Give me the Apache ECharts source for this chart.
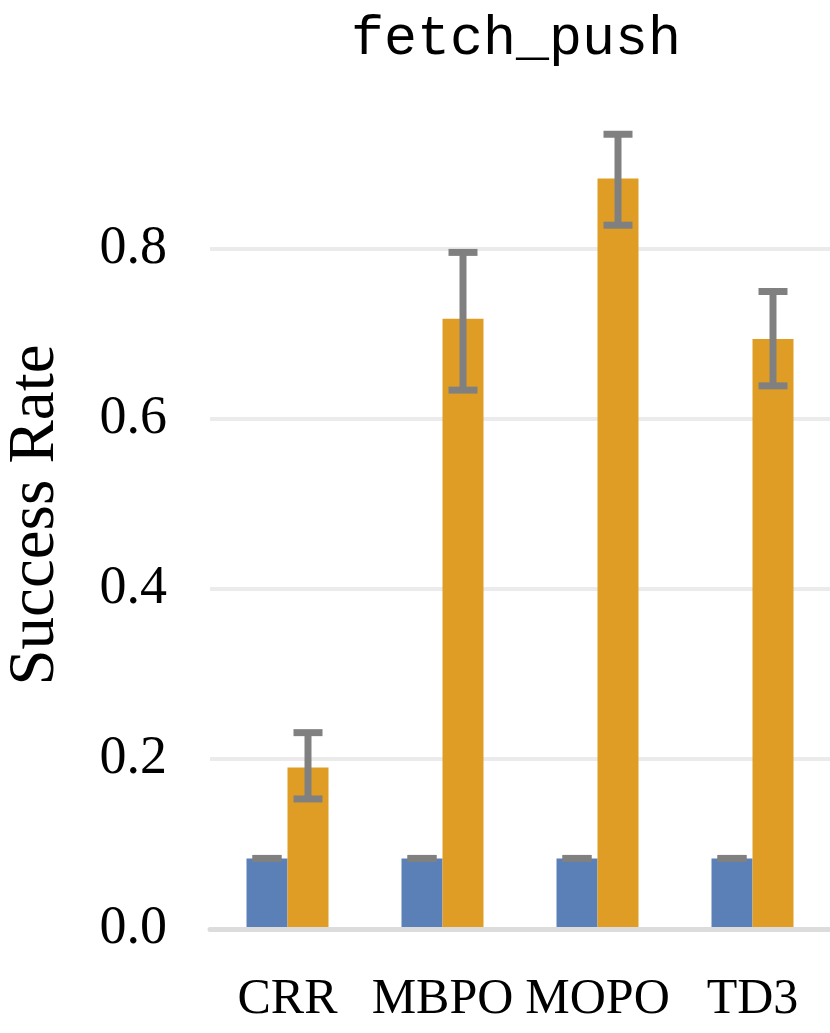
<!DOCTYPE html>
<html>
<head>
<meta charset="utf-8">
<script src="https://cdn.jsdelivr.net/npm/echarts@6/dist/echarts.min.js"></script>
<style>
  html, body { margin: 0; padding: 0; background: #fff; }
  #chart { width: 830px; height: 1033px; }
</style>
</head>
<body>
<div id="chart"></div>
<script>
// data
var categories = ['CRR', 'MBPO', 'MOPO', 'TD3'];
var baseMean = [0.083, 0.083, 0.083, 0.083];
var baseLow  = [0.083, 0.083, 0.083, 0.083];
var baseHigh = [0.083, 0.083, 0.083, 0.083];
var mainMean = [0.190, 0.718, 0.883, 0.694];
var mainLow  = [0.153, 0.634, 0.828, 0.639];
var mainHigh = [0.231, 0.796, 0.935, 0.750];
var yTicks = [0, 0.2, 0.4, 0.6, 0.8];

var BAR_W = 41;

function errData(low, high) {
	var out = [];
	for (var i = 0; i < categories.length; i++) {
		out.push([i, low[i], high[i]]);
	}
	return out;
}

function errRender(offset) {
	return function (params, api) {
		var c = api.value(0);
		var lo = api.coord([c, api.value(1)]);
		var hi = api.coord([c, api.value(2)]);
		var x = lo[0] + offset;
		var half = 14.5;
		var style = { stroke: '#808080', lineWidth: 7, lineCap: 'butt' };
		return {
			type: 'group',
			children: [
				{ type: 'line', shape: { x1: x, y1: hi[1], x2: x, y2: lo[1] }, style: style },
				{ type: 'line', shape: { x1: x - half, y1: hi[1], x2: x + half, y2: hi[1] }, style: style },
				{ type: 'line', shape: { x1: x - half, y1: lo[1], x2: x + half, y2: lo[1] }, style: style }
			]
		};
	};
}

var chart = echarts.init(document.getElementById('chart'));
var option = {
	animation: false,
	backgroundColor: '#ffffff',
	title: {
		text: 'fetch_push',
		left: 511,
		textAlign: 'center',
		top: 7,
		textStyle: {
			fontFamily: 'Liberation Mono',
			fontWeight: 'normal',
			fontSize: 55,
			color: '#000'
		}
	},
	grid: {
		left: 210,
		right: 0,
		top: 113,
		bottom: 104,
		containLabel: false,
		outerBoundsMode: 'none'
	},
	xAxis: {
		type: 'category',
		data: categories,
		axisTick: { show: false },
		axisLine: { show: true, lineStyle: { color: '#dcdcdc', width: 5 } },
		axisLabel: {
			fontFamily: 'Liberation Serif',
			fontSize: 50,
			color: '#000',
			margin: 46,
			interval: 0,
			hideOverlap: false
		},
		z: 5
	},
	yAxis: {
		type: 'value',
		min: 0,
		max: 0.96,
		interval: 0.2,
		name: 'Success Rate',
		nameLocation: 'middle',
		nameGap: 142,
		nameTextStyle: {
			fontFamily: 'Liberation Serif',
			fontSize: 65,
			color: '#000',
			padding: [0, 0, 0, 12]
		},
		axisLine: { show: false },
		axisTick: { show: false },
		axisLabel: {
			fontFamily: 'Liberation Serif',
			fontSize: 54,
			color: '#000',
			margin: 43,
			formatter: function (v) {
				for (var i = 0; i < yTicks.length; i++) {
					if (Math.abs(v - yTicks[i]) < 1e-6) return yTicks[i].toFixed(1);
				}
				return '';
			}
		},
		splitLine: {
			show: true,
			lineStyle: {
				color: ['#ebebeb', '#ebebeb', '#ebebeb', '#ebebeb', '#ebebeb', 'rgba(0,0,0,0)'],
				width: 4
			}
		}
	},
	series: [
		{
			name: 'Baseline',
			type: 'bar',
			data: baseMean,
			barWidth: BAR_W,
			barGap: '0%',
			itemStyle: { color: '#5b80b8' }
		},
		{
			name: 'Method',
			type: 'bar',
			data: mainMean,
			barWidth: BAR_W,
			barGap: '0%',
			itemStyle: { color: '#e09d25' }
		},
		{
			name: 'Baseline err',
			type: 'custom',
			renderItem: errRender(-BAR_W / 2),
			encode: { x: 0, y: [1, 2] },
			data: errData(baseLow, baseHigh),
			z: 10
		},
		{
			name: 'Method err',
			type: 'custom',
			renderItem: errRender(BAR_W / 2),
			encode: { x: 0, y: [1, 2] },
			data: errData(mainLow, mainHigh),
			z: 10
		}
	]
};
chart.setOption(option);
</script>
</body>
</html>
